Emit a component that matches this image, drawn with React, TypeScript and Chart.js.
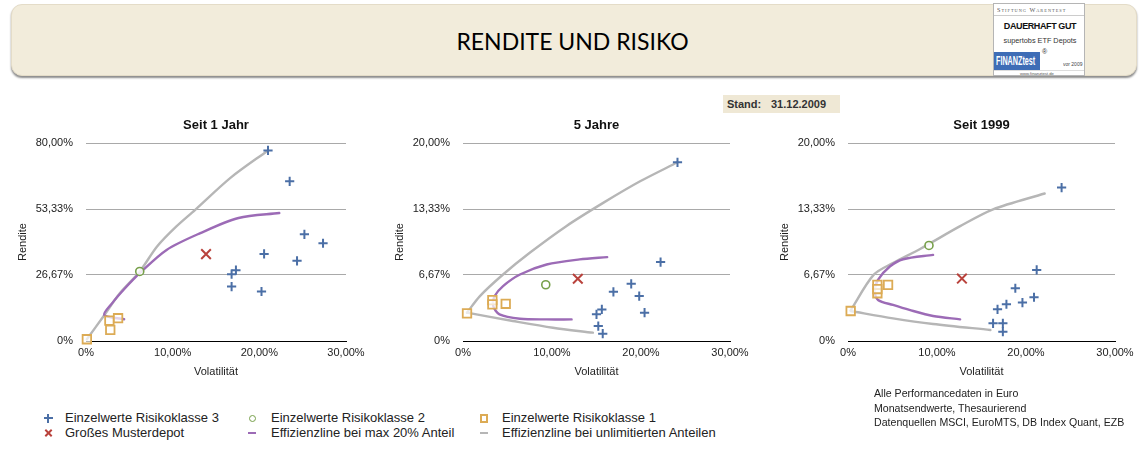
import React, { useEffect, useRef } from 'react';
import { Chart, registerables } from 'chart.js';

Chart.register(...registerables);

type Pt = [number, number];

const FONT = "'Liberation Sans', Arial, Helvetica, sans-serif";

// ---------- tick values / labels ----------
const xTickValues = [0, 10, 20, 30];
const xTickLabels = ['0%', '10,00%', '20,00%', '30,00%'];
const yTickValuesJahr = [0, 26.6667, 53.3333, 80];
const yTickLabelsJahr = ['0%', '26,67%', '53,33%', '80,00%'];
const yTickValuesLang = [0, 6.6667, 13.3333, 20];
const yTickLabelsLang = ['0%', '6,67%', '13,33%', '20,00%'];

const panelTitles = ['Seit 1 Jahr', '5 Jahre', 'Seit 1999'];
const seriesNames = [
  'Einzelwerte Risikoklasse 3',
  'Großes Musterdepot',
  'Einzelwerte Risikoklasse 2',
  'Effizienzline bei max 20% Anteil',
  'Einzelwerte Risikoklasse 1',
  'Effizienzline bei unlimitierten Anteilen',
];
const noteLines = [
  'Alle Performancedaten in Euro',
  'Monatsendwerte, Thesaurierend',
  'Datenquellen MSCI, EuroMTS, DB Index Quant, EZB',
];

// ---------- Seit 1 Jahr (Volatilität %, Rendite %) ----------
const jahr1Klasse3: Pt[] = [[21.0, 77.0], [23.5, 64.5], [25.2, 43.1], [27.35, 39.5], [20.55, 35.2], [24.35, 32.4], [17.3, 28.6], [16.8, 27.0], [16.8, 22.0], [20.25, 20.0]];
const jahr1Muster: Pt[] = [[13.85, 35.1]];
const jahr1Klasse2: Pt[] = [[6.2, 28.1]];
const jahr1Klasse1: Pt[] = [[0.1, 0.7], [2.7, 8.2], [3.7, 9.2], [2.8, 4.5]];
const jahr1Eff20: Pt[] = [[4.4, 8.8], [2.1, 10.5], [3.0, 15.2], [4.5, 21.3], [6.2, 27.4], [9.3, 36.8], [13.2, 43.6], [17.6, 49.7], [22.3, 51.7]];
const jahr1EffUnl: Pt[] = [[0.1, 0.7], [2.0, 9.9], [3.9, 19.3], [6.2, 28.1], [8.2, 38.2], [10.4, 46.2], [12.6, 53.0], [16.7, 66.0], [21.0, 77.0]];
const jahr1EffUnlUnten: Pt[] = [];

// ---------- 5 Jahre ----------
const jahr5Klasse3: Pt[] = [[24.1, 18.05], [22.2, 7.97], [18.9, 5.78], [16.9, 4.97], [19.8, 4.54], [15.6, 3.19], [15.0, 2.69], [20.4, 2.86], [15.2, 1.51], [15.7, 0.74]];
const jahr5Muster: Pt[] = [[12.9, 6.29]];
const jahr5Klasse2: Pt[] = [[9.3, 5.68]];
const jahr5Klasse1: Pt[] = [[0.45, 2.79], [3.3, 4.13], [3.3, 3.7], [4.8, 3.76]];
const jahr5Eff20: Pt[] = [[16.2, 8.47], [13.1, 8.24], [9.4, 7.73], [6.4, 6.72], [4.5, 5.55], [3.56, 4.54], [3.4, 3.53], [4.1, 2.69], [6.4, 2.25], [9.4, 2.18], [12.2, 2.18]];
const jahr5EffUnl: Pt[] = [[0.45, 2.86], [1.9, 4.54], [4.5, 6.72], [7.5, 8.91], [11.6, 11.6], [15.75, 13.95], [19.9, 16.13], [24.1, 18.05]];
const jahr5EffUnlUnten: Pt[] = [[0.45, 2.86], [5.6, 2.02], [10.1, 1.34], [14.6, 0.84]];

// ---------- Seit 1999 ----------
const s1999Klasse3: Pt[] = [[24.0, 15.5], [21.2, 7.18], [18.8, 5.33], [20.9, 4.42], [19.6, 3.88], [17.8, 3.71], [16.8, 3.2], [16.3, 1.79], [17.4, 1.79], [17.4, 0.94]];
const s1999Muster: Pt[] = [[12.8, 6.31]];
const s1999Klasse2: Pt[] = [[9.1, 9.65]];
const s1999Klasse1: Pt[] = [[0.3, 3.03], [3.3, 5.66], [3.3, 4.82], [3.3, 5.25], [4.5, 5.66]];
const s1999Eff20: Pt[] = [[9.56, 8.7], [6.2, 8.26], [4.7, 7.52], [3.37, 6.17], [3.0, 4.99], [3.37, 4.15], [5.06, 3.64], [6.9, 3.14], [9.56, 2.53], [12.6, 2.19]];
const s1999EffUnl: Pt[] = [[0.3, 3.1], [2.9, 6.7], [5.1, 7.9], [8.1, 9.3], [12.6, 11.6], [16.3, 13.3], [22.1, 14.9]];
const s1999EffUnlUnten: Pt[] = [[0.3, 3.03], [5.06, 2.29], [9.56, 1.72], [16.0, 1.11]];

// ---------- styles ----------
const BLUE = '#4b6fa6';
const RED = '#b9423c';
const GREEN = '#77a04a';
const YELLOW = '#dcab55';
const PURPLE = '#9c6bb6';
const GRAY = '#b6b6b6';

const CANVAS_TOP = 100;
const CANVAS_H = 280;
const Y_AXIS_W = 86;
const PAD_TOP = 43;
const X_AXIS_H = 39;

interface PanelDef {
  title: string;
  left: number;
  plotWidth: number;
  rightPad: number;
  yMax: number;
  yTicks: number[];
  yLabels: string[];
  klasse3: Pt[];
  muster: Pt[];
  klasse2: Pt[];
  klasse1: Pt[];
  eff20: Pt[];
  effUnl: Pt[];
  effUnlUnten: Pt[];
}

const panels: PanelDef[] = [
  { title: panelTitles[0], left: 0, plotWidth: 260, rightPad: 34, yMax: 80, yTicks: yTickValuesJahr, yLabels: yTickLabelsJahr,
    klasse3: jahr1Klasse3, muster: jahr1Muster, klasse2: jahr1Klasse2, klasse1: jahr1Klasse1, eff20: jahr1Eff20, effUnl: jahr1EffUnl, effUnlUnten: jahr1EffUnlUnten },
  { title: panelTitles[1], left: 377, plotWidth: 267, rightPad: 34, yMax: 20, yTicks: yTickValuesLang, yLabels: yTickLabelsLang,
    klasse3: jahr5Klasse3, muster: jahr5Muster, klasse2: jahr5Klasse2, klasse1: jahr5Klasse1, eff20: jahr5Eff20, effUnl: jahr5EffUnl, effUnlUnten: jahr5EffUnlUnten },
  { title: panelTitles[2], left: 762, plotWidth: 267, rightPad: 28, yMax: 20, yTicks: yTickValuesLang, yLabels: yTickLabelsLang,
    klasse3: s1999Klasse3, muster: s1999Muster, klasse2: s1999Klasse2, klasse1: s1999Klasse1, eff20: s1999Eff20, effUnl: s1999EffUnl, effUnlUnten: s1999EffUnlUnten },
];

function Panel({ def }: { def: PanelDef }) {
  const ref = useRef<HTMLCanvasElement>(null);
  const width = Y_AXIS_W + def.plotWidth + def.rightPad;

  useEffect(() => {
    const canvas = ref.current;
    if (!canvas) return;
    const toXY = (pts: Pt[]) => pts.map(([x, y]) => ({ x, y }));
    const labelFor = (vals: number[], labels: string[]) => (v: any) => {
      const i = vals.findIndex((t) => Math.abs(t - Number(v)) < 1e-3);
      return i >= 0 ? labels[i] : '';
    };
    const textPlugin = {
      id: 'panelText',
      afterDraw(chart: any) {
        const { ctx, chartArea } = chart;
        const cx = (chartArea.left + chartArea.right) / 2;
        ctx.save();
        ctx.fillStyle = '#111';
        ctx.textAlign = 'center';
        ctx.textBaseline = 'middle';
        ctx.font = `bold 13px ${FONT}`;
        ctx.fillText(def.title, cx, 25);
        ctx.fillStyle = '#222';
        ctx.font = `11px ${FONT}`;
        ctx.fillText('Volatilität', cx, 272);
        ctx.translate(23, (chartArea.top + chartArea.bottom) / 2);
        ctx.rotate(-Math.PI / 2);
        ctx.fillText('Rendite', 0, 0);
        ctx.restore();
      },
    };
    const lineDs = (label: string, pts: Pt[], color: string) => ({
      label,
      data: toXY(pts),
      showLine: true,
      pointRadius: 0,
      borderColor: color,
      backgroundColor: color,
      borderWidth: 2.4,
      tension: 0.3,
      borderJoinStyle: 'round',
      borderCapStyle: 'round',
      fill: false,
      clip: false,
    });
    const chart = new Chart(canvas, {
      type: 'scatter',
      data: {
        datasets: [
          { label: seriesNames[0], data: toXY(def.klasse3), pointStyle: 'cross', pointRadius: 4.6, pointBorderWidth: 2, pointBorderColor: BLUE, pointBackgroundColor: BLUE, borderColor: BLUE, showLine: false, clip: false },
          { label: seriesNames[1], data: toXY(def.muster), pointStyle: 'crossRot', pointRadius: 6.8, pointBorderWidth: 2, pointBorderColor: RED, pointBackgroundColor: RED, borderColor: RED, showLine: false, clip: false },
          { label: seriesNames[2], data: toXY(def.klasse2), pointStyle: 'circle', pointRadius: 4, pointBorderWidth: 1.6, pointBorderColor: GREEN, pointBackgroundColor: 'rgba(255,255,255,0.85)', borderColor: GREEN, showLine: false, clip: false },
          { label: seriesNames[4], data: toXY(def.klasse1), pointStyle: 'rect', pointRadius: 6, pointBorderWidth: 1.8, pointBorderColor: YELLOW, pointBackgroundColor: 'rgba(255,255,255,0.7)', borderColor: YELLOW, showLine: false, clip: false },
          lineDs(seriesNames[3], def.eff20, PURPLE),
          lineDs(seriesNames[5], def.effUnl, GRAY),
          lineDs(seriesNames[5], def.effUnlUnten, GRAY),
        ] as any,
      },
      options: {
        animation: false,
        responsive: false,
        events: [],
        layout: { padding: { top: PAD_TOP, right: def.rightPad, bottom: 0, left: 0 } },
        plugins: { legend: { display: false }, tooltip: { enabled: false }, title: { display: false } },
        scales: {
          x: {
            type: 'linear',
            min: 0,
            max: 30,
            afterBuildTicks: (s: any) => { s.ticks = xTickValues.map((v) => ({ value: v })); },
            afterFit: (s: any) => { s.height = X_AXIS_H; },
            grid: { color: 'rgba(0,0,0,0)', drawTicks: false },
            border: { display: true, color: '#000', width: 1 },
            ticks: { padding: 5, autoSkip: false, maxRotation: 0, color: '#222', font: { family: FONT, size: 11 }, callback: labelFor(xTickValues, xTickLabels) },
          },
          y: {
            type: 'linear',
            min: 0,
            max: def.yMax,
            afterBuildTicks: (s: any) => { s.ticks = def.yTicks.map((v) => ({ value: v })); },
            afterFit: (s: any) => { s.width = Y_AXIS_W; },
            grid: { color: '#a9a9a9', lineWidth: 1, drawTicks: false },
            border: { display: false },
            ticks: { padding: 13, autoSkip: false, color: '#222', font: { family: FONT, size: 11 }, callback: labelFor(def.yTicks, def.yLabels) },
          },
        },
      } as any,
      plugins: [textPlugin as any],
    });
    return () => chart.destroy();
  }, [def]);

  return (
    <canvas
      ref={ref}
      width={width}
      height={CANVAS_H}
      style={{ position: 'absolute', left: def.left, top: CANVAS_TOP, width, height: CANVAS_H }}
    />
  );
}

function Tiny({ text, left, top, size, scale, style }: { text: string; left: number; top: number; size: number; scale: number; style?: React.CSSProperties }) {
  return (
    <div style={{ position: 'absolute', left, top, fontSize: size, lineHeight: 1, whiteSpace: 'nowrap', transform: `scale(${scale})`, transformOrigin: '0 0', ...style }}>
      {text}
    </div>
  );
}

function Badge() {
  return (
    <div style={{ position: 'absolute', left: 993, top: 3, width: 92, height: 73, background: '#fff', border: '1px solid #b5b5b5', boxSizing: 'border-box', overflow: 'hidden' }}>
      <Tiny text="Stiftung Warentest" left={3} top={3} size={10} scale={0.62} style={{ fontFamily: "'Liberation Serif', serif", fontVariant: 'small-caps', letterSpacing: 1.6, color: '#555' }} />
      <div style={{ position: 'absolute', left: 0, top: 11, width: 92, height: 1, background: '#ccc' }} />
      <div style={{ position: 'absolute', left: 0, top: 17, width: 92, textAlign: 'center', fontFamily: FONT, fontWeight: 'bold', fontSize: 9, lineHeight: '11px', color: '#111', letterSpacing: -0.4 }}>DAUERHAFT GUT</div>
      <div style={{ position: 'absolute', left: 0, top: 32, width: 92, textAlign: 'center', fontFamily: FONT, fontSize: 7.3, lineHeight: '9px', color: '#333' }}>supertobs ETF Depots</div>
      <div style={{ position: 'absolute', left: 0, top: 48, width: 46, height: 18, background: '#3e6db6', overflow: 'hidden' }}>
        <div style={{ position: 'absolute', left: 2, top: 2, fontFamily: FONT, fontWeight: 'bold', fontSize: 12, lineHeight: '14px', color: '#fff', transform: 'scaleX(0.6)', transformOrigin: '0 0', whiteSpace: 'nowrap' }}>FINANZtest</div>
      </div>
      <div style={{ position: 'absolute', left: 48, top: 44, fontFamily: FONT, fontSize: 7, color: '#333' }}>®</div>
      <Tiny text="vor 2009" left={69} top={58} size={10} scale={0.5} style={{ fontFamily: FONT, color: '#444' }} />
      <div style={{ position: 'absolute', left: 0, top: 66, width: 92, height: 1, background: '#ddd' }} />
      <Tiny text="www.finanztest.de" left={26} top={67.5} size={10} scale={0.42} style={{ fontFamily: FONT, color: '#555' }} />
    </div>
  );
}

function Marker({ kind, cx, cy }: { kind: string; cx: number; cy: number }) {
  const abs: React.CSSProperties = { position: 'absolute' };
  if (kind === 'plus') {
    return (
      <>
        <div style={{ ...abs, left: cx - 4.5, top: cy - 1, width: 9, height: 2, background: BLUE }} />
        <div style={{ ...abs, left: cx - 1, top: cy - 4.5, width: 2, height: 9, background: BLUE }} />
      </>
    );
  }
  if (kind === 'x') {
    return (
      <>
        <div style={{ ...abs, left: cx - 4.5, top: cy - 1, width: 9, height: 2, background: RED, transform: 'rotate(45deg)' }} />
        <div style={{ ...abs, left: cx - 4.5, top: cy - 1, width: 9, height: 2, background: RED, transform: 'rotate(-45deg)' }} />
      </>
    );
  }
  if (kind === 'circle') {
    return <div style={{ ...abs, left: cx - 3.5, top: cy - 3.5, width: 7, height: 7, boxSizing: 'border-box', border: `1.5px solid ${GREEN}`, borderRadius: '50%' }} />;
  }
  if (kind === 'square') {
    return <div style={{ ...abs, left: cx - 4, top: cy - 4.5, width: 8, height: 9, boxSizing: 'border-box', border: `2px solid ${YELLOW}` }} />;
  }
  const color = kind === 'purple' ? PURPLE : GRAY;
  return <div style={{ ...abs, left: cx - 4, top: cy - 1, width: 8, height: 2, background: color }} />;
}

const legendItems = [
  { kind: 'plus', mx: 48, tx: 65, cy: 418, text: seriesNames[0] },
  { kind: 'x', mx: 48, tx: 65, cy: 433, text: seriesNames[1] },
  { kind: 'circle', mx: 252, tx: 271, cy: 418, text: seriesNames[2] },
  { kind: 'purple', mx: 252, tx: 271, cy: 433, text: seriesNames[3] },
  { kind: 'square', mx: 484, tx: 502, cy: 418, text: seriesNames[4] },
  { kind: 'gray', mx: 484, tx: 502, cy: 433, text: seriesNames[5] },
];

export default function App() {
  return (
    <div style={{ position: 'absolute', left: 0, top: 0, width: 1145, height: 454, overflow: 'hidden', background: '#fff', fontFamily: FONT }}>
      {/* header band */}
      <div style={{ position: 'absolute', left: 11, top: 4, width: 1126, height: 72, boxSizing: 'border-box', background: '#f2ecdb', border: '1px solid #e4dcc8', borderRadius: 11, boxShadow: '0 2px 2px rgba(0,0,0,0.45)' }} />
      <div style={{ position: 'absolute', left: 0, top: 29, width: 1145, textAlign: 'center', fontFamily: "Lato, 'Open Sans', sans-serif", fontSize: 23, lineHeight: '24px', color: '#000' }}>
        RENDITE UND RISIKO
      </div>
      <Badge />

      {/* Stand box */}
      <div style={{ position: 'absolute', left: 723, top: 95, width: 117, height: 18, background: '#efe8d5' }} />
      <div style={{ position: 'absolute', left: 727, top: 97, fontWeight: 'bold', fontSize: 11, lineHeight: '14px', color: '#333' }}>Stand:</div>
      <div style={{ position: 'absolute', left: 771, top: 97, fontWeight: 'bold', fontSize: 11, lineHeight: '14px', color: '#333' }}>31.12.2009</div>

      {panels.map((p, i) => (
        <Panel key={i} def={p} />
      ))}

      {/* legend */}
      {legendItems.map((it, i) => (
        <React.Fragment key={i}>
          <Marker kind={it.kind} cx={it.mx} cy={it.cy} />
          <div style={{ position: 'absolute', left: it.tx, top: it.cy - 8, fontSize: 13, lineHeight: '16px', color: '#222', whiteSpace: 'nowrap' }}>{it.text}</div>
        </React.Fragment>
      ))}

      {/* notes */}
      <div style={{ position: 'absolute', left: 874, top: 386, fontSize: 10.6, lineHeight: '14.5px', color: '#222', whiteSpace: 'nowrap' }}>
        {noteLines.map((l, i) => (
          <div key={i}>{l}</div>
        ))}
      </div>
    </div>
  );
}
